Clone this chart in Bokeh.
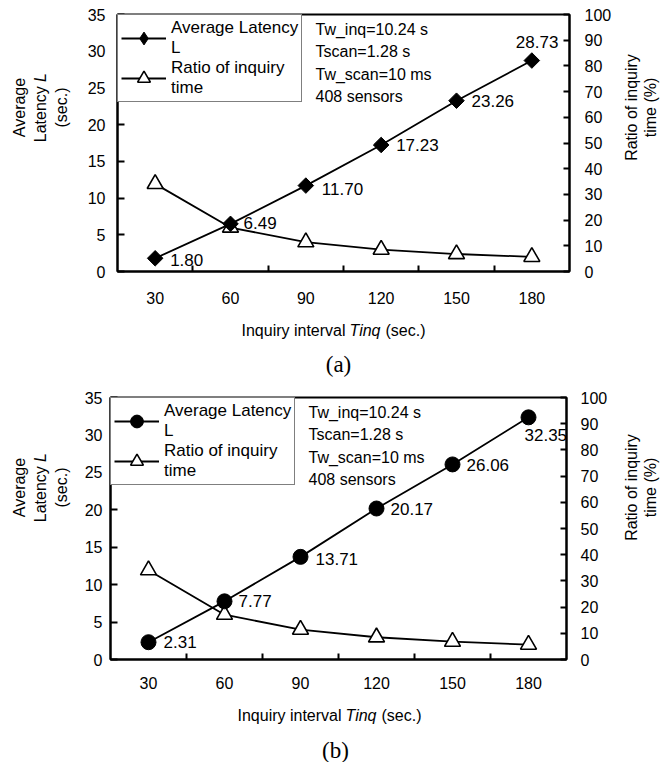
import math
from bokeh.plotting import figure
from bokeh.models import (Range1d, LinearAxis, FixedTicker, Legend, LegendItem,
                          Label, ColumnDataSource)
from bokeh.layouts import column, row
from bokeh.embed import file_html
from bokeh.resources import INLINE
from bokeh.core.properties import value

# ---------------- data ----------------
tinq = [30, 60, 90, 120, 150, 180]
latency_a = [1.80, 6.49, 11.70, 17.23, 23.26, 28.73]
latency_b = [2.31, 7.77, 13.71, 20.17, 26.06, 32.35]
ratio_a = [34.1, 17.1, 11.4, 8.5, 6.8, 5.7]
ratio_b = [34.1, 17.1, 11.4, 8.5, 6.8, 5.7]
latency_ticks = [0, 5, 10, 15, 20, 25, 30, 35]
ratio_ticks = [0, 10, 20, 30, 40, 50, 60, 70, 80, 90, 100]
params = ["Tw_inq=10.24 s", "Tscan=1.28 s", "Tw_scan=10 ms", "408 sensors"]
legend_labels = ["Average Latency\nL", "Ratio of inquiry\ntime"]
x_title = ["Inquiry interval", "Tinq", "(sec.)"]
y_title = ["Average", "Latency", "L", "(sec.)"]
y2_title = ["Ratio of inquiry", "time (%)"]
captions = ["(a)", "(b)"]

# label offsets (screen px) for the value labels, style only
dx_a = [15, 13, 16, 15, 15, -16]
dy_a = [2, -1, 3, 0, 0, -19]
dx_b = [15, 14, 15, 14, 14, -4]
dy_b = [0, 0, 2, 0, 1, 18]

FONT = "Liberation Sans"
YLAB_W = 75
Y2LAB_W = 45
MAIN_W = 662 - YLAB_W - Y2LAB_W


def blank(w, h):
    f = figure(width=w, height=h, output_backend="svg", toolbar_location=None,
               x_range=Range1d(0, 1), y_range=Range1d(0, 1),
               x_axis_location=None, y_axis_location=None, min_border=0,
               min_border_left=0, min_border_right=0, min_border_top=0, min_border_bottom=0)
    f.outline_line_color = None
    f.xgrid.visible = False
    f.ygrid.visible = False
    f.background_fill_color = "white"
    f.border_fill_color = "white"
    return f


def lab(f, x, y, text, angle=0.0, align="center", style="normal", size="16px",
        font=FONT):
    f.add_layout(Label(x=x, y=y, x_units="screen", y_units="screen", text=text,
                       angle=angle, text_align=align, text_baseline="middle",
                       text_font=font, text_font_size=size, text_font_style=style,
                       text_color="black"))


def style_axis(ax, tick_in, standoff):
    ax.axis_line_width = 2
    ax.axis_line_color = "black"
    ax.major_tick_in = tick_in
    ax.major_tick_out = 0
    ax.major_tick_line_width = 2
    ax.minor_tick_line_color = None
    ax.major_label_standoff = standoff
    ax.major_label_text_font = FONT
    ax.major_label_text_font_size = "16px"
    ax.major_label_text_color = "black"


def panel(latency, ratio, marker, mk_size, mk_angle, leg_marker, leg_size,
          dx, dy, caption, g):
    step = tinq[1] - tinq[0]
    p = figure(width=MAIN_W, height=g["h"], output_backend="svg", toolbar_location=None,
               x_range=Range1d(tinq[0] - step / 2, tinq[-1] + step / 2),
               y_range=Range1d(latency_ticks[0], latency_ticks[-1]),
               min_border_left=g["fl"] - YLAB_W, min_border_right=662 - Y2LAB_W - g["fr"],
               min_border_top=g["ft"], min_border_bottom=g["h"] - g["fb"],
               x_axis_location=None, y_axis_location=None)
    p.background_fill_color = "white"
    p.border_fill_color = "white"
    p.outline_line_color = "black"
    p.outline_line_width = 2
    p.xgrid.visible = False
    p.ygrid.visible = False

    # x axis (category style: labels at centres, ticks at boundaries)
    bounds = [(a + b) / 2 for a, b in zip(tinq[:-1], tinq[1:])]
    xax = LinearAxis(ticker=FixedTicker(ticks=tinq, minor_ticks=bounds))
    style_axis(xax, 0, g["xs"])
    xax.major_tick_line_color = None
    xax.minor_tick_line_color = "black"
    xax.minor_tick_in = 6
    xax.minor_tick_out = 0
    xax.minor_tick_line_width = 2
    p.add_layout(xax, "below")

    yax = LinearAxis(ticker=FixedTicker(ticks=latency_ticks))
    style_axis(yax, 7, g["ys"])
    p.add_layout(yax, "left")

    p.extra_y_ranges = {"ratio": Range1d(ratio_ticks[0], ratio_ticks[-1])}
    rax = LinearAxis(y_range_name="ratio", ticker=FixedTicker(ticks=ratio_ticks))
    style_axis(rax, 6, g["rs"])
    p.add_layout(rax, "right")

    src = ColumnDataSource(dict(x=tinq, lat=latency, ratio=ratio,
                                txt=["%.2f" % v for v in latency], dx=dx, dy=dy))

    l1 = p.line("x", "lat", source=src, line_color="black", line_width=1.8)
    l2 = p.line("x", "ratio", source=src, y_range_name="ratio",
                line_color="black", line_width=1.8)
    s2 = p.scatter("x", "ratio", source=src, y_range_name="ratio", marker="triangle",
                   size=16, fill_color="white", line_color="black", line_width=1.6)
    s1 = p.scatter("x", "lat", source=src, marker=marker, size=mk_size, angle=mk_angle,
                   fill_color="black", line_color="black")
    if leg_marker is not None:
        # legend sample glyph only (not drawn in the plot area)
        s1 = p.scatter(x=[float("nan")], y=[float("nan")], marker=leg_marker,
                       size=leg_size, fill_color="black", line_color="black")
    p.text("x", "lat", text="txt", source=src, x_offset="dx", y_offset="dy",
           text_font=value(FONT), text_font_size="17px", text_color="black",
           text_align="left", text_baseline="middle")

    leg = Legend(items=[LegendItem(label=legend_labels[0], renderers=[l1, s1]),
                        LegendItem(label=legend_labels[1], renderers=[l2, s2])],
                 location="top_left", margin=0, padding=3, spacing=0,
                 glyph_width=45, glyph_height=32, label_height=18,
                 label_standoff=5, label_text_font=FONT, label_text_font_size="17px",
                 label_text_line_height=1.05, label_text_color="black",
                 border_line_color="black", border_line_width=1.5,
                 background_fill_color="white", background_fill_alpha=1.0)
    p.add_layout(leg, "center")

    # parameter text block
    fh = g["fb"] - g["ft"]
    for i, t in enumerate(params):
        lab(p, 198, fh - g["pt"] - i * 22.3, t, align="left")

    # left axis title (rotated; italic L)
    yl = blank(YLAB_W, g["h"])
    c = g["h"] - g["yc"]
    rot = math.pi / 2
    lab(yl, 19, c, y_title[0], angle=rot)
    lab(yl, 40, c - 34.75, y_title[1], angle=rot, align="left")
    lab(yl, 40, c + 25.6, y_title[2], angle=rot, align="left", style="italic")
    lab(yl, 61, c, y_title[3], angle=rot)

    # right axis title
    yr = blank(Y2LAB_W, g["h"])
    lab(yr, 14, c, y2_title[0], angle=rot)
    lab(yr, 33, c, y2_title[1], angle=rot)

    # x axis title (italic Tinq) and caption
    xl = blank(662, g["bh"])
    ty = g["bh"] - g["xt"]
    lab(xl, g["xx"], ty, x_title[0], align="left")
    lab(xl, g["xx"] + 108, ty, x_title[1], align="left", style="italic")
    lab(xl, g["xx"] + 144, ty, x_title[2], align="left")
    lab(xl, g["cx"], g["bh"] - g["cy"], caption, size="23px", font="Liberation Serif")

    return column(row(yl, p, yr, spacing=0), xl, spacing=0)


geo_a = dict(h=312, fl=117, fr=569, ft=14, fb=271, xs=20, ys=12, rs=15,
             pt=15, yc=148, bh=71, xt=18, xx=241, cx=338, cy=52)
geo_b = dict(h=316, fl=110, fr=566, ft=14, fb=276, xs=17, ys=8, rs=14,
             pt=15, yc=144, bh=63, xt=16, xx=237, cx=335, cy=51)

pa = panel(latency_a, ratio_a, "square", 11, math.pi / 4, "diamond", 16,
           dx_a, dy_a, captions[0], geo_a)
pb = panel(latency_b, ratio_b, "circle", 15, 0, None, 0,
           dx_b, dy_b, captions[1], geo_b)

layout = column(pa, pb, spacing=0)
open("out.html", "w").write(file_html(layout, INLINE))
